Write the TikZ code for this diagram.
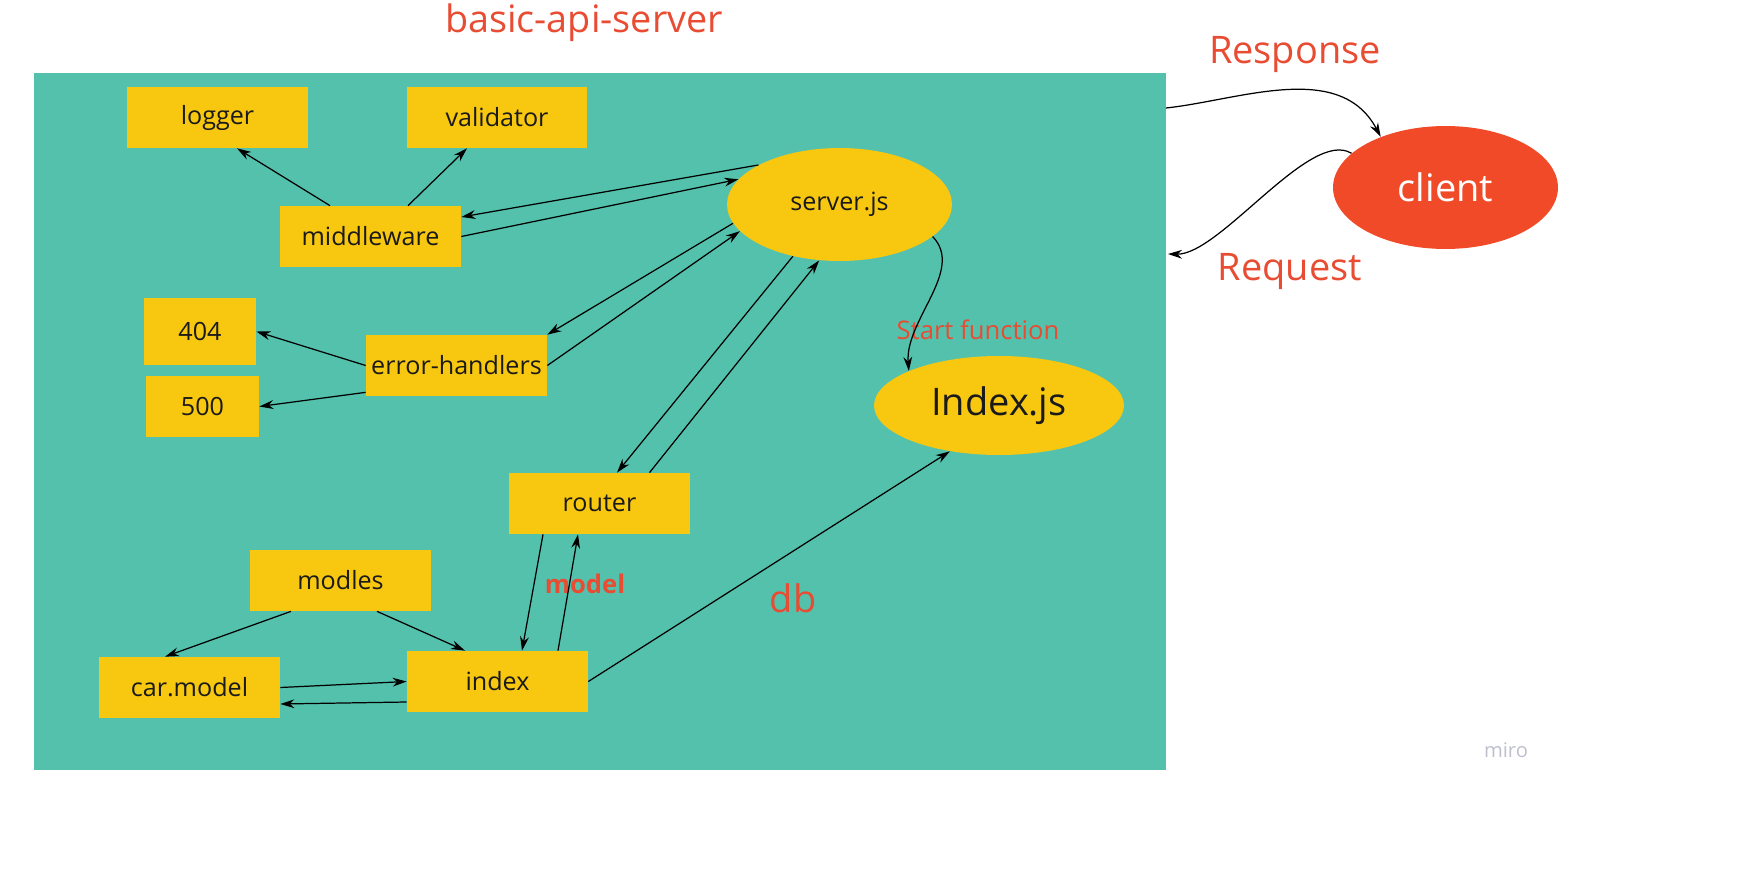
\documentclass[tikz,border=0pt]{standalone}
\usepackage{fontspec}
\setmainfont{Open Sans}
\usepackage{tikz}
\usetikzlibrary{shapes.geometric}
\usetikzlibrary{arrows.meta}
\definecolor{mirogreen}{RGB}{84,193,173}
\definecolor{miroyellow}{RGB}{248,199,16}
\definecolor{mirored}{RGB}{241,74,40}
\definecolor{redink}{RGB}{232,76,50}
\definecolor{inkblack}{RGB}{26,26,26}
\definecolor{logogray}{RGB}{190,192,206}
\newcommand{\boxtxt}{\fontsize{14.3}{17}\selectfont}
\newcommand{\bigtxt}{\fontsize{21.6}{26}\selectfont}
\newcommand{\titletxt}{\fontsize{21.5}{26}\selectfont}

\begin{document}
\begin{tikzpicture}[x=0.02cm, y=-0.02cm,
    box/.style={fill=miroyellow, minimum width=3.62cm, minimum height=1.22cm, inner sep=0pt, text=inkblack, font=\boxtxt},
    oval/.style={ellipse, fill=miroyellow, inner sep=0pt, text=inkblack},
    link/.style={-{Stealth[length=8pt,width=5pt]}, line width=0.7pt}]
      \useasboundingbox (0,0) rectangle (1756,889);
      \fill[mirogreen] (34,73) rectangle (1166,770);
      \coordinate (resp) at (1166,108);
      \coordinate (req) at (1168,254);

      \node[text=redink, font=\titletxt] (title) at (584,23) {basic-api-server};
      \node[box] (logger) at (217.5,117.5) {logger};
      \node[box] (valid) at (497,117.5) {validator};
      \node[box] (mw) at (370.5,236.5) {middleware};
      \node[oval, minimum width=4.5cm, minimum height=2.26cm, font=\boxtxt] (srv) at (839.5,204.5) {server.js};
      \node[box, minimum width=2.24cm, minimum height=1.34cm] (nf) at (200,331.5) {404};
      \node[box, minimum width=2.26cm] (ise) at (202.5,406.5) {500};
      \node[box] (eh) at (456.5,365.5) {error-handlers};
      \node[oval, minimum width=5cm, minimum height=1.98cm, font=\bigtxt] (ij) at (999,405.5) {Index.js};
      \node[box] (rt) at (599.5,503.5) {router};
      \node[box] (ml) at (340.5,580.5) {modles};
      \node[box] (cm) at (189.5,687.5) {car.model};
      \node[box] (idx) at (497.5,681.5) {index};
      \node[ellipse, fill=mirored, text=white, inner sep=0pt, minimum width=4.5cm, minimum height=2.46cm, font=\bigtxt] (cl) at (1445.5,187.5) {client};

      % labels
      \node[text=redink, font=\bigtxt] (resplbl) at (1295,55) {Response};
      \node[text=redink, font=\bigtxt] (reqlbl) at (1290,272) {Request};
      \node[text=redink, font=\fontsize{14.6}{17}\selectfont] (startlbl) at (978,330) {Start function};
      \node[text=redink, font=\bigtxt] (dblbl) at (793,598) {db};
      \node[text=redink, font=\fontsize{14.6}{17}\selectfont\bfseries] (modellbl) at (585,584) {model};
      \node[text=logogray, font=\fontsize{11.5}{13}\selectfont] (logo) at (1506,750) {miro};

      % middleware
      \draw[link] ([xshift=-0.81cm]mw.north) -- ([xshift=0.39cm]logger.south);
      \draw[link] ([xshift=0.75cm]mw.north) -- ([xshift=-0.6cm]valid.south);
      \draw[link] (srv.154) -- ([yshift=0.39cm]mw.east);
      \draw[link] (mw.east) -- (srv.166);
      % error handlers
      \draw[link] (srv.190) -- (eh.north east);
      \draw[link] (eh.east) -- (srv.195);
      \draw[link] (eh.west) -- (nf.east);
      \draw[link] ([yshift=0.08cm]eh.south west) -- (ise.east);
      % router
      \draw[link] (srv.228) -- ([xshift=0.35cm]rt.north);
      \draw[link] ([xshift=1cm]rt.north) -- (srv.250);
      \draw[link] ([xshift=-1.13cm]rt.south) -- ([xshift=0.49cm]idx.north);
      \draw[link] ([xshift=1.21cm]idx.north) -- ([xshift=-0.43cm]rt.south);
      % models
      \draw[link] ([xshift=-0.99cm]ml.south) -- ([xshift=-0.49cm]cm.north);
      \draw[link] ([xshift=0.73cm]ml.south) -- ([xshift=-0.65cm]idx.north);
      \draw[link] (cm.east) -- (idx.west);
      \draw[link] ([yshift=-0.41cm]idx.west) -- ([yshift=-0.33cm]cm.east);
      \draw[link] (idx.east) -- (ij.223);
      \draw[link] (srv.341) .. controls (965,270) and (905,320) .. (ij.159);
      % client
      \draw[link] (resp) .. controls (1240,100) and (1340,60) .. (cl.142);
      \draw[link] (cl.160) .. controls (1310,128) and (1220,255) .. (req);
    \end{tikzpicture}
\end{document}
